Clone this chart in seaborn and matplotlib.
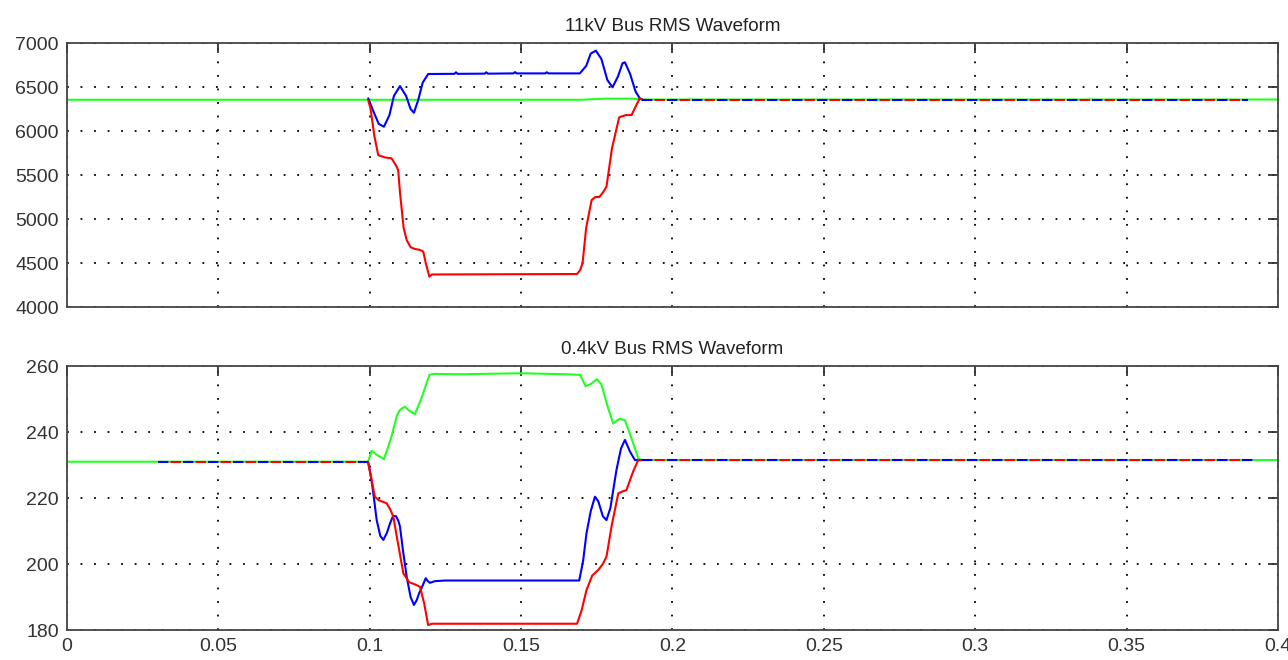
import matplotlib
matplotlib.use("Agg")
import matplotlib.pyplot as plt
import seaborn as sns

# ---- data ----
x_ticks = [0, 0.05, 0.1, 0.15, 0.2, 0.25, 0.3, 0.35, 0.4]
x_labels = ["0", "0.05", "0.1", "0.15", "0.2", "0.25", "0.3", "0.35", "0.4"]
top_yticks = [4000, 4500, 5000, 5500, 6000, 6500, 7000]
bot_yticks = [180, 200, 220, 240, 260]

# 11kV bus
top_green_t = [0, 0.1695, 0.178, 0.1865, 0.19, 0.4]
top_green_v = [6355, 6355, 6368, 6368, 6358, 6358]

top_blue_t = [0.0995, 0.1015, 0.103, 0.1047, 0.1065, 0.108, 0.110, 0.112, 0.1135, 0.1146,
              0.1160, 0.1175, 0.1193, 0.128, 0.1285, 0.129, 0.138, 0.1385, 0.139, 0.1475,
              0.148, 0.1485, 0.158, 0.1585, 0.159, 0.1694, 0.1715, 0.1730, 0.1747, 0.1765,
              0.1785, 0.1802, 0.1820, 0.1835, 0.1843, 0.186, 0.1878, 0.1892, 0.190]
top_blue_v = [6372, 6200, 6080, 6049, 6180, 6400, 6511, 6400, 6250, 6208,
              6350, 6550, 6648, 6650, 6668, 6650, 6652, 6668, 6652, 6655,
              6670, 6655, 6655, 6668, 6655, 6655, 6740, 6880, 6913, 6820,
              6580, 6497, 6620, 6770, 6781, 6650, 6450, 6372, 6358]

top_red_t = [0.0995, 0.1003, 0.1015, 0.1028, 0.105, 0.1072, 0.1085, 0.1094, 0.110, 0.1112,
             0.1122, 0.1135, 0.1149, 0.1165, 0.1177, 0.1185, 0.1197, 0.1205, 0.1685, 0.1695,
             0.1703, 0.1715, 0.1733, 0.1745, 0.1758, 0.1770, 0.1782, 0.180, 0.1824, 0.1845,
             0.1865, 0.188, 0.1892, 0.190]
top_red_v = [6350, 6250, 5950, 5727, 5700, 5690, 5620, 5557, 5300, 4900,
             4762, 4680, 4660, 4650, 4629, 4500, 4345, 4370, 4375, 4420,
             4497, 4900, 5216, 5250, 5250, 5300, 5367, 5800, 6156, 6180,
             6182, 6290, 6372, 6358]

top_post_t = [0.19, 0.39]
top_post_v = [6358, 6358]

# 0.4kV bus
bot_green_t = [0, 0.0995, 0.1006, 0.1025, 0.1047, 0.107, 0.109, 0.110, 0.1116, 0.113,
               0.1149, 0.117, 0.1197, 0.121, 0.13, 0.15, 0.165, 0.1695, 0.1713, 0.1730,
               0.1750, 0.1765, 0.1785, 0.1804, 0.1825, 0.1843, 0.1865, 0.1887, 0.190, 0.4]
bot_green_v = [231, 231, 234.3, 233, 231.8, 238, 245, 246.7, 247.7, 246.5,
               245.4, 250, 257.3, 257.6, 257.5, 257.8, 257.5, 257.3, 253.9, 254.5,
               256, 254.5, 248, 242.6, 244, 243.6, 238, 232, 231.5, 231.5]

bot_blue_t = [0.0995, 0.1005, 0.1012, 0.1023, 0.1035, 0.1045, 0.1057, 0.1067, 0.1077, 0.1087,
              0.1095, 0.110, 0.111, 0.1122, 0.1135, 0.1146, 0.1155, 0.1163, 0.1175, 0.1185,
              0.1192, 0.1199, 0.1215, 0.125, 0.1692, 0.1705, 0.1716, 0.1730, 0.1744, 0.1755,
              0.1770, 0.1782, 0.1795, 0.1815, 0.1830, 0.1843, 0.186, 0.1876, 0.190]
bot_blue_v = [230.8, 226, 221.4, 213.3, 208.5, 207.3, 209.5, 212.3, 214.5, 214.5,
              213, 211.3, 204, 196.2, 190, 187.6, 189, 191.1, 193.5, 195.7,
              194.8, 194.3, 194.8, 195, 195, 201, 209.3, 216, 220.4, 219,
              214.5, 213.3, 217, 228.5, 235, 237.6, 234, 231.5, 231.5]

bot_red_t = [0.0995, 0.1005, 0.1017, 0.103, 0.1045, 0.1056, 0.1068, 0.1078, 0.109, 0.1111,
             0.113, 0.115, 0.1166, 0.118, 0.1193, 0.1205, 0.1685, 0.1700, 0.1716, 0.1735,
             0.1755, 0.1770, 0.1782, 0.180, 0.1821, 0.1835, 0.1848, 0.187, 0.1887, 0.190]
bot_red_v = [230.8, 226, 220.4, 219.3, 218.8, 218.4, 216.5, 214.3, 208, 197.2,
             194.5, 193.8, 193.1, 188, 181.5, 181.9, 181.9, 186, 192.1, 196.5,
             198.2, 200, 202.2, 212, 221.4, 222, 222.4, 228, 231.5, 231.5]

bot_pre_t = [0.03, 0.0995]
bot_pre_v = [230.8, 230.8]
bot_post_t = [0.19, 0.392]
bot_post_v = [231.5, 231.5]

BLUE, RED, GREEN = "#0000ff", "#ff0000", "#22ff22"

sns.set_style("white")
plt.rcParams["font.family"] = ["Liberation Sans", "DejaVu Sans"]

fig = plt.figure(figsize=(12.88, 6.6), dpi=100)
ax1 = fig.add_axes([0.052, 0.5348, 0.9402, 0.4])
ax2 = fig.add_axes([0.052, 0.04545, 0.9402, 0.4])


def line(ax, t, v, color, ls="-"):
    sns.lineplot(x=t, y=v, ax=ax, color=color, linewidth=1.5, linestyle=ls,
                 estimator=None, sort=False)


# top panel
line(ax1, top_green_t, top_green_v, GREEN)
line(ax1, top_blue_t, top_blue_v, BLUE)
line(ax1, top_red_t, top_red_v, RED)
line(ax1, top_post_t, top_post_v, BLUE, (0, (5, 7)))
line(ax1, top_post_t, top_post_v, RED, (6, (5, 7)))

# bottom panel
line(ax2, bot_green_t, bot_green_v, GREEN)
line(ax2, bot_pre_t, bot_pre_v, BLUE, (0, (5, 7)))
line(ax2, bot_pre_t, bot_pre_v, RED, (6, (5, 7)))
line(ax2, bot_blue_t, bot_blue_v, BLUE)
line(ax2, bot_red_t, bot_red_v, RED)
line(ax2, bot_post_t, bot_post_v, BLUE, (0, (5, 7)))
line(ax2, bot_post_t, bot_post_v, RED, (6, (5, 7)))

for ax, yt, title in [(ax1, top_yticks, "11kV Bus RMS Waveform"),
                      (ax2, bot_yticks, "0.4kV Bus RMS Waveform")]:
    ax.set_xlim(0, 0.4)
    ax.set_ylim(yt[0], yt[-1])
    ax.set_xticks(x_ticks)
    ax.set_yticks(yt)
    ax.set_yticklabels([str(v) for v in yt])
    ax.grid(True, color="black", linestyle=(0, (1, 6.5)), linewidth=1.3)
    ax.tick_params(direction="in", top=True, right=True, length=7, width=1.3,
                   labelsize=14, colors="#333333", pad=6)
    for s in ax.spines.values():
        s.set_color("#444444")
        s.set_linewidth(1.3)
    ax.set_title(title, fontsize=13.5, color="#222222", pad=9)
    ax.set_xlabel("")
    ax.set_ylabel("")

ax1.set_xticklabels([])
ax2.set_xticklabels(x_labels)

fig.savefig("out.png", dpi=100)
